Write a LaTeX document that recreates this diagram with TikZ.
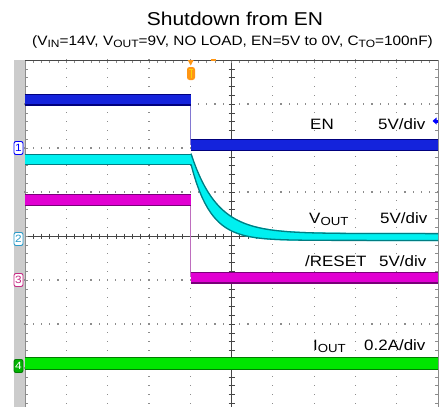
\documentclass[tikz,border=0pt]{standalone}
\usepackage{fontspec}
\setmainfont[FakeStretch=1.13]{Liberation Sans}
\newcommand\subx[1]{\raisebox{-0.3ex}{\scalebox{0.78}{#1}}}
\definecolor{enfill}{RGB}{20,35,220}
\definecolor{enedge}{RGB}{0,0,125}
\definecolor{cyfill}{RGB}{0,240,240}
\definecolor{cyedge}{RGB}{0,125,130}
\definecolor{mgfill}{RGB}{225,0,210}
\definecolor{mgedge}{RGB}{120,0,120}
\definecolor{grfill}{RGB}{0,230,0}
\definecolor{gredge}{RGB}{0,125,0}
\definecolor{barg}{RGB}{204,204,204}
\definecolor{gridc}{RGB}{140,140,140}
\definecolor{axc}{RGB}{70,70,70}
\definecolor{trig}{RGB}{255,150,20}
\definecolor{enline}{RGB}{130,120,210}
\definecolor{mgline}{RGB}{190,110,190}
\begin{document}
\begin{tikzpicture}[x=1pt,y=-1pt,
  lbl/.style={font=\fontsize{15}{18}\selectfont, anchor=base west, inner sep=0pt},
  chmark/.style={draw, fill=white, rounded corners=2pt, line width=0.9pt, minimum width=9pt, minimum height=13pt, inner sep=0pt, font=\fontsize{10.5}{10.5}\selectfont},
  edge/.style={line width=1.3pt}]
\useasboundingbox (0,0) rectangle (443,407);
\fill[white] (0,0) rectangle (443,407);
% gray side bar
\fill[barg] (14,60) rectangle (25,407);
\begin{scope}
\clip (0,0) rectangle (443,407);
% dotted grid
\foreach \k in {1,2,3,4,6,7,8,9}{
  \foreach \j in {0,...,40}{
    \fill[gridc] ({25+41.3*\k-0.6},{60+8.8*\j-0.6}) rectangle ++(1.2,1.2);
  }
}
\foreach \k in {1,2,3,5,6,7}{
  \foreach \i in {0,...,50}{
    \fill[gridc] ({25+8.26*\i-0.6},{60+44*\k-0.6}) rectangle ++(1.2,1.2);
  }
}
% center crosshair
\draw[axc, line width=0.8pt] (231.5,60) -- (231.5,407);
\draw[axc, line width=0.8pt] (25,236) -- (438,236);
\foreach \j in {0,...,40}{
  \draw[axc, line width=0.6pt] (228.5,{60+8.8*\j}) -- (234.5,{60+8.8*\j});
  \draw[gridc, line width=0.6pt] (25,{60+8.8*\j}) -- (28,{60+8.8*\j});
  \draw[gridc, line width=0.6pt] (435,{60+8.8*\j}) -- (438,{60+8.8*\j});
}
\foreach \i in {0,...,50}{
  \draw[axc, line width=0.6pt] ({25+8.26*\i},233.5) -- ({25+8.26*\i},238.5);
  \draw[gridc, line width=0.6pt] ({25+8.26*\i},60) -- ({25+8.26*\i},63);
}
% frame
\draw[gridc, line width=0.7pt] (25,60) -- (25,407);
\draw[gridc, line width=0.7pt] (438,60) -- (438,407);
\draw[axc, line width=0.9pt] (25,60) -- (438,60);
% vertical transition lines
\draw[enline, line width=0.8pt] (190.5,100) -- (190.5,145);
\draw[mgline, line width=0.8pt] (190.5,200) -- (190.5,277);
% EN trace
\fill[enfill] (25,94) rectangle (190.5,105.5);
\draw[enedge, edge] (25,94.6) -- (190.5,94.6) (25,104.9) -- (190.5,104.9);
\fill[enfill] (190.5,139) rectangle (438,151);
\draw[enedge, edge] (190.5,139.6) -- (438,139.6) (190.5,150.4) -- (438,150.4);
% RESET trace
\fill[mgfill] (25,194) rectangle (190.5,206);
\draw[mgedge, edge] (25,194.6) -- (190.5,194.6) (25,205.4) -- (190.5,205.4);
\fill[mgfill] (190.5,272) rectangle (438,283.5);
\draw[mgedge, edge] (190.5,272.6) -- (438,272.6) (190.5,282.9) -- (438,282.9);
% VOUT trace
\fill[cyfill] (25,154) rectangle (191,165);
\draw[cyedge, edge] (25,154.6) -- (191,154.6) (25,164.4) -- (191,164.4);
\fill[cyfill] (191,153) -- plot[domain=191:438, samples=90] (\x,{233-80*exp(-(\x-191)/26)})
  -- plot[domain=438:191, samples=90] (\x,{241-76*exp(-(\x-191)/19.5)}) -- cycle;
\draw[cyedge, edge] plot[domain=191:438, samples=90] (\x,{233.6-80*exp(-(\x-191)/26)});
\draw[cyedge, edge] plot[domain=191:438, samples=90] (\x,{240.4-76*exp(-(\x-191)/19.5)});
% IOUT trace
\fill[grfill] (25,357) rectangle (438,370);
\draw[gredge, edge] (25,357.6) -- (438,357.6) (25,369.4) -- (438,369.4);
\end{scope}
% trigger marker
\fill[trig] (187.7,60) -- (193.7,60) -- (190.7,65.5) -- cycle;
\fill[trig, rounded corners=2.5pt] (187,67) rectangle (195,80);
\draw[yellow!70!orange, line width=1pt] (188.8,69.5) -- (193.2,69.5) (191,69.5) -- (191,77.5);
\fill[trig] (211,58.5) rectangle (216,61);
% channel markers
\node[chmark, draw=blue, text=blue] (m1) at (18.5,148) {1};
\node[chmark, draw=cyan!80!black, text=cyan!80!black] (m2) at (18.5,239) {2};
\node[chmark, draw=magenta!80!black, text=magenta!80!black] (m3) at (18.5,280) {3};
\node[chmark, draw=gredge, fill=green!70!black, text=white] (m4) at (18.5,366) {4};
% EN reference arrow
\fill[blue] (432.5,121) -- (436.5,117.5) -- (436.5,124.5) -- cycle;
\fill[blue] (436,119.5) rectangle (438,122.5);
% title
\node[font=\fontsize{18.6}{22}\selectfont, anchor=base, inner sep=0pt] (title) at (235,25) {Shutdown from EN};
\node[font=\fontsize{13.6}{16}\selectfont, anchor=base, inner sep=0pt] (subtitle) at (232.5,45.5)
  {(V\subx{IN}=14V, V\subx{OUT}=9V, NO LOAD, EN=5V to 0V, C\subx{TO}=100nF)};
% labels
\node[lbl] (en) at (310,129) {EN};
\node[lbl] (endiv) at (378,129) {5V/div};
\node[lbl] (vout) at (309,223) {V\subx{OUT}};
\node[lbl] (voutdiv) at (380,223) {5V/div};
\node[lbl] (rst) at (305,266.7) {/RESET};
\node[lbl] (rstdiv) at (379,266.7) {5V/div};
\node[lbl] (iout) at (313,350) {I\subx{OUT}};
\node[lbl] (ioutdiv) at (364,350) {0.2A/div};
\end{tikzpicture}
\end{document}
